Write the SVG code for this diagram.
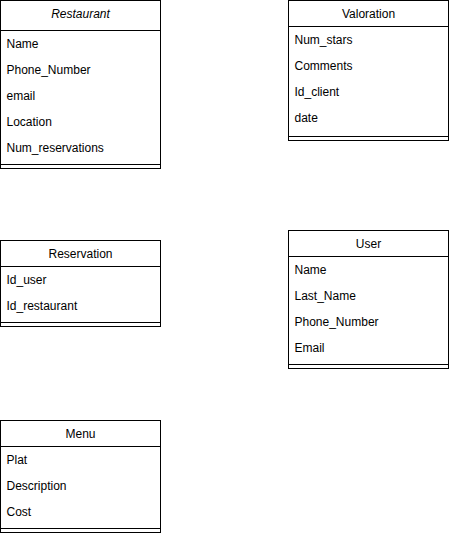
<svg xmlns="http://www.w3.org/2000/svg" width="449" height="533" viewBox="0 0 449 533">
<style>
rect{fill:#fff;stroke:#000;stroke-width:1}
line{stroke:#000;stroke-width:1}
text{font-family:"Liberation Sans",Arial,sans-serif;font-size:12px;fill:#000}
.t{text-anchor:middle}
.i{font-style:italic}
</style>
<rect x="0" y="0" width="449" height="533" style="stroke:none;fill:#fff"/>
<g id="restaurant">
<rect x="0.5" y="0.5" width="160" height="168"/>
<line x1="0.5" y1="30.5" x2="160.5" y2="30.5"/>
<line x1="0.5" y1="164.5" x2="160.5" y2="164.5"/>
<text class="t i" x="80.5" y="18">Restaurant</text>
<text x="6.5" y="48">Name</text>
<text x="6.5" y="74">Phone_Number</text>
<text x="6.5" y="100">email</text>
<text x="6.5" y="126">Location</text>
<text x="6.5" y="152">Num_reservations</text>
</g>
<g id="valoration">
<rect x="288.5" y="0.5" width="160" height="140"/>
<line x1="288.5" y1="26.5" x2="448.5" y2="26.5"/>
<line x1="288.5" y1="136.5" x2="448.5" y2="136.5"/>
<text class="t" x="368.5" y="18">Valoration</text>
<text x="294.5" y="44">Num_stars</text>
<text x="294.5" y="70">Comments</text>
<text x="294.5" y="96">Id_client</text>
<text x="294.5" y="122">date</text>
</g>
<g id="reservation">
<rect x="0.5" y="240.5" width="160" height="86"/>
<line x1="0.5" y1="266.5" x2="160.5" y2="266.5"/>
<line x1="0.5" y1="322.5" x2="160.5" y2="322.5"/>
<text class="t" x="80.5" y="258">Reservation</text>
<text x="6.5" y="284">Id_user</text>
<text x="6.5" y="310">Id_restaurant</text>
</g>
<g id="user">
<rect x="288.5" y="230.5" width="160" height="138"/>
<line x1="288.5" y1="256.5" x2="448.5" y2="256.5"/>
<line x1="288.5" y1="364.5" x2="448.5" y2="364.5"/>
<text class="t" x="368.5" y="248">User</text>
<text x="294.5" y="274">Name</text>
<text x="294.5" y="300">Last_Name</text>
<text x="294.5" y="326">Phone_Number</text>
<text x="294.5" y="352">Email</text>
</g>
<g id="menu">
<rect x="0.5" y="420.5" width="160" height="112"/>
<line x1="0.5" y1="446.5" x2="160.5" y2="446.5"/>
<line x1="0.5" y1="528.5" x2="160.5" y2="528.5"/>
<text class="t" x="80.5" y="438">Menu</text>
<text x="6.5" y="464">Plat</text>
<text x="6.5" y="490">Description</text>
<text x="6.5" y="516">Cost</text>
</g>
<g id="connectors"></g>
</svg>
